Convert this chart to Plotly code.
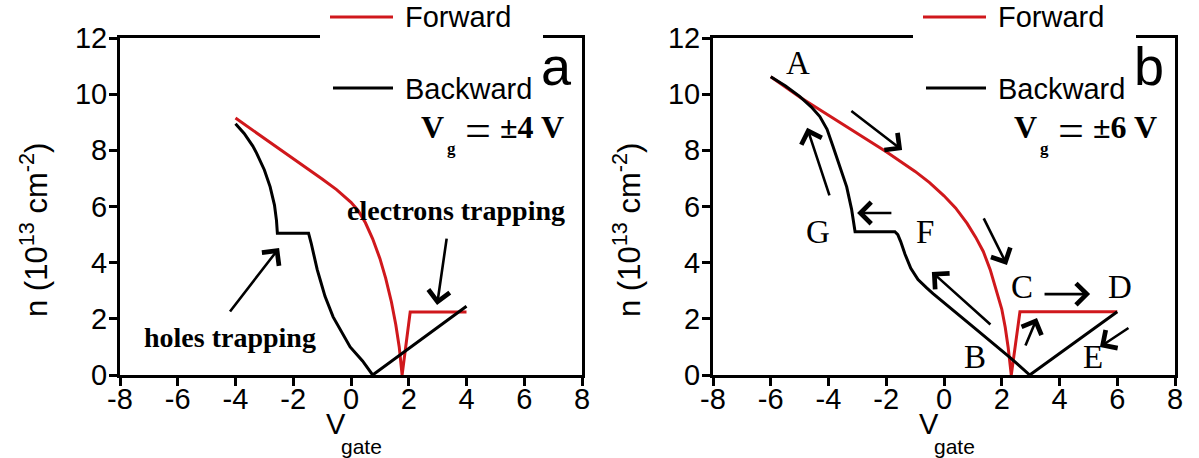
import plotly.graph_objects as go

# ---------------- data ----------------
# Panel a  (Vg = ±4 V)
a_fwd_x = [-4.0, -3.0, -2.0, -1.0, -0.5, 0.0, 0.25, 0.5, 0.75, 1.0, 1.2, 1.4, 1.55, 1.67, 1.77, 2.05, 4.0]
a_fwd_y = [9.15, 8.43, 7.72, 6.98, 6.6, 6.15, 5.85, 5.42, 4.85, 4.15, 3.45, 2.6, 1.8, 1.0, 0.0, 2.24, 2.24]
a_bwd_x = [-4.0, -3.7, -3.4, -3.27, -3.0, -2.8, -2.65, -2.58, -2.55, -1.47, -1.38, -1.28, -1.17,
           -1.07, -0.9, -0.62, -0.3, -0.03, 0.4, 0.75, 4.0]
a_bwd_y = [8.95, 8.6, 8.15, 7.9, 7.3, 6.7, 6.05, 5.5, 5.05, 5.05, 4.7, 4.2, 3.75,
           3.4, 2.8, 2.07, 1.5, 1.0, 0.5, 0.0, 2.45]

# Panel b  (Vg = ±6 V)
b_fwd_x = [-6.0, -5.0, -4.0, -3.0, -2.0, -1.0, -0.5, 0.0, 0.4, 0.8, 1.1, 1.36, 1.6, 1.8, 2.0,
           2.12, 2.22, 2.33, 2.63, 6.0]
b_fwd_y = [10.62, 9.9, 9.25, 8.6, 7.95, 7.25, 6.85, 6.38, 5.95, 5.4, 4.9, 4.4, 3.75, 3.05, 2.35,
           1.7, 1.0, 0.0, 2.25, 2.25]
b_bwd_x = [-6.0, -5.5, -5.0, -4.6, -4.3, -4.05, -3.84, -3.6, -3.37, -3.2, -3.08, -1.7, -1.6,
           -1.5, -1.35, -1.15, -0.9, -0.6, -0.38, 1.0, 2.29, 2.97, 6.0]
b_bwd_y = [10.62, 10.3, 9.92, 9.55, 9.2, 8.75, 8.13, 7.4, 6.7, 5.9, 5.1, 5.1, 5.0,
           4.75, 4.3, 3.8, 3.4, 3.1, 2.9, 1.72, 0.62, 0.0, 2.25]

x_tick_vals = [-8, -6, -4, -2, 0, 2, 4, 6, 8]
x_tick_text = ["-8", "-6", "-4", "-2", "0", "2", "4", "6", "8"]
y_tick_vals = [0, 2, 4, 6, 8, 10, 12]
y_tick_text = ["0", "2", "4", "6", "8", "10", "12"]

series_names = ["Forward", "Backward"]
panel_letters = ["a", "b"]
vg_labels = ["±4 V", "±6 V"]
point_labels = ["A", "B", "C", "D", "E", "F", "G"]
point_x = [-5.06, 1.07, 2.7, 6.1, 5.16, -0.66, -4.36]
point_y = [11.1, 0.64, 3.13, 3.13, 0.64, 5.09, 5.09]

# ---------------- styling ----------------
W, H = 1199, 458
RED = "#d0181c"
SANS = "Liberation Sans, Arial, sans-serif"
SERIF = "Liberation Serif, Times New Roman, serif"


def px(x):
    return x / W


def py(y):
    return 1 - y / H


fig = go.Figure()
fig.add_trace(go.Scatter(x=a_fwd_x, y=a_fwd_y, mode="lines", name=series_names[0],
                         line=dict(color=RED, width=3), xaxis="x", yaxis="y", showlegend=False))
fig.add_trace(go.Scatter(x=a_bwd_x, y=a_bwd_y, mode="lines", name=series_names[1],
                         line=dict(color="black", width=3), xaxis="x", yaxis="y", showlegend=False))
fig.add_trace(go.Scatter(x=b_fwd_x, y=b_fwd_y, mode="lines", name=series_names[0],
                         line=dict(color=RED, width=3), xaxis="x2", yaxis="y2", showlegend=False))
fig.add_trace(go.Scatter(x=b_bwd_x, y=b_bwd_y, mode="lines", name=series_names[1],
                         line=dict(color="black", width=3), xaxis="x2", yaxis="y2", showlegend=False))

axis_common = dict(showline=True, linewidth=3, linecolor="black", mirror=True, showgrid=False,
                   zeroline=False, ticks="outside", ticklen=8, tickwidth=3, tickcolor="black",
                   automargin=False,
                   tickfont=dict(family=SANS, size=29, color="black"))
ydom = [py(375), py(38)]
fig.update_layout(
    template="none",
    width=W, height=H, margin=dict(l=0, r=0, t=0, b=0, pad=0), autosize=False,
    paper_bgcolor="white", plot_bgcolor="white",
    xaxis=dict(domain=[px(120), px(582)], range=[-8, 8], tickvals=x_tick_vals, ticktext=x_tick_text,
               anchor="y", ticklabelstandoff=-12, **axis_common),
    yaxis=dict(domain=ydom, range=[0, 12], tickvals=y_tick_vals, ticktext=y_tick_text,
               anchor="x", ticklabelstandoff=-4, **axis_common),
    xaxis2=dict(domain=[px(713), px(1175)], range=[-8, 8], tickvals=x_tick_vals, ticktext=x_tick_text,
                anchor="y2", ticklabelstandoff=-12, **axis_common),
    yaxis2=dict(domain=ydom, range=[0, 12], tickvals=y_tick_vals, ticktext=y_tick_text,
                anchor="x2", ticklabelstandoff=-4, **axis_common),
)

shapes = []
annotations = []
for i, off in enumerate([0, 593]):
    # legend background (breaks the top frame line)
    shapes.append(dict(type="rect", xref="paper", yref="paper", layer="above",
                       x0=px(320 + off), x1=px(543 + off), y0=py(45), y1=py(30),
                       fillcolor="white", line=dict(width=0)))
    # legend samples
    shapes.append(dict(type="line", xref="paper", yref="paper", layer="above",
                       x0=px(330 + off), x1=px(393 + off), y0=py(17), y1=py(17),
                       line=dict(color=RED, width=3)))
    shapes.append(dict(type="line", xref="paper", yref="paper", layer="above",
                       x0=px(333 + off), x1=px(393 + off), y0=py(88), y1=py(88),
                       line=dict(color="black", width=3)))
    annotations.append(dict(text=series_names[0], xref="paper", yref="paper", x=px(403 + off), y=py(17),
                            xanchor="left", yanchor="middle", showarrow=False,
                            font=dict(family=SANS, size=29, color="black")))
    annotations.append(dict(text=series_names[1], xref="paper", yref="paper", x=px(403 + off), y=py(89),
                            xanchor="left", yanchor="middle", showarrow=False,
                            font=dict(family=SANS, size=29, color="black")))
    # panel letter
    annotations.append(dict(text=panel_letters[i], xref="paper", yref="paper", x=px(556 + off), y=py(66),
                            xanchor="center", yanchor="middle", showarrow=False,
                            font=dict(family=SANS, size=54, color="black")))
    # Vg label
    annotations.append(dict(text="<b>V</b>", xref="paper", yref="paper", x=px(432 + off), y=py(127),
                            xanchor="center", yanchor="middle", showarrow=False,
                            font=dict(family=SERIF, size=32, color="black")))
    annotations.append(dict(text="<b>g</b>", xref="paper", yref="paper", x=px(451 + off), y=py(148),
                            xanchor="center", yanchor="middle", showarrow=False,
                            font=dict(family=SERIF, size=17, color="black")))
    annotations.append(dict(text="=", xref="paper", yref="paper", x=px(478 + off), y=py(130),
                            xanchor="center", yanchor="middle", showarrow=False,
                            font=dict(family=SERIF, size=46, color="black")))
    annotations.append(dict(text="<b>" + vg_labels[i] + "</b>", xref="paper", yref="paper",
                            x=px(532 + off), y=py(127), xanchor="center", yanchor="middle",
                            showarrow=False, font=dict(family=SERIF, size=32, color="black")))
    # y title
    annotations.append(dict(text="n (10<sup>13</sup> cm<sup>-2</sup>)", xref="paper", yref="paper",
                            x=px(34 + off), y=py(230), xanchor="center", yanchor="middle",
                            textangle=-90, showarrow=False,
                            font=dict(family=SANS, size=31, color="black")))
    # x title
    annotations.append(dict(text="V", xref="paper", yref="paper", x=px(336 + off), y=py(424),
                            xanchor="center", yanchor="middle", showarrow=False,
                            font=dict(family=SANS, size=29, color="black")))
    annotations.append(dict(text="gate", xref="paper", yref="paper", x=px(361 + off), y=py(446),
                            xanchor="center", yanchor="middle", showarrow=False,
                            font=dict(family=SANS, size=21, color="black")))

# panel a text labels
annotations.append(dict(text="<b>holes trapping</b>", xref="x", yref="y", x=-4.19, y=1.35,
                        showarrow=False, font=dict(family=SERIF, size=28, color="black")))
annotations.append(dict(text="<b>electrons trapping</b>", xref="x", yref="y", x=3.64, y=5.85,
                        showarrow=False, font=dict(family=SERIF, size=28, color="black")))

arrow_style = dict(showarrow=True, arrowhead=4, arrowsize=1.6, arrowwidth=2.6, arrowcolor="black",
                   text="", standoff=0)
# panel a arrows: (tail_x, tail_y, head_x, head_y)
a_arrows = [(-4.23, 2.21, -2.49, 4.52), (3.32, 4.91, 2.98, 2.49)]
for tx, ty, hx, hy in a_arrows:
    annotations.append(dict(xref="x", yref="y", axref="x", ayref="y", x=hx, y=hy, ax=tx, ay=ty,
                            **arrow_style))
# panel b arrows
b_arrows = [(-3.26, 9.44, -1.45, 8.01), (-3.95, 6.34, -4.74, 8.8), (-1.77, 5.77, -3.01, 5.77),
            (1.35, 5.63, 2.18, 3.92), (1.66, 1.75, -0.42, 3.67), (3.43, 2.88, 5.06, 2.88),
            (2.8, 1.0, 3.22, 2.03), (6.44, 1.71, 5.4, 1.0)]
for tx, ty, hx, hy in b_arrows:
    annotations.append(dict(xref="x2", yref="y2", axref="x2", ayref="y2", x=hx, y=hy, ax=tx, ay=ty,
                            **arrow_style))
for lab, lx, ly in zip(point_labels, point_x, point_y):
    annotations.append(dict(text=lab, xref="x2", yref="y2", x=lx, y=ly, showarrow=False,
                            font=dict(family=SERIF, size=33, color="black")))

fig.update_layout(shapes=shapes, annotations=annotations)
fig.write_html("out.html", config={"responsive": False, "displayModeBar": False},
               post_script="document.body.style.margin='0';document.body.style.overflow='hidden';")
